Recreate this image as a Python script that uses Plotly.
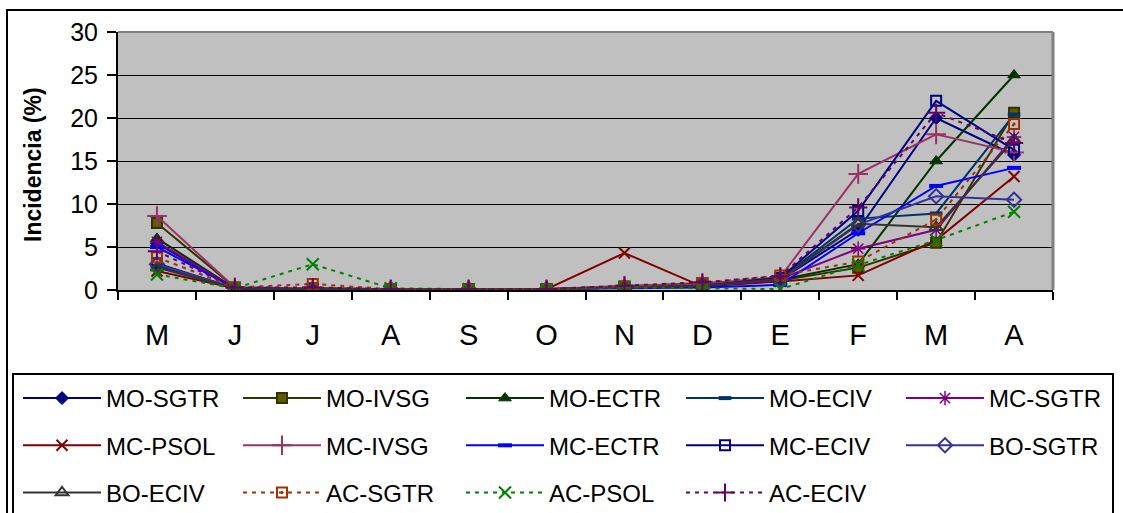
import plotly.graph_objects as go

months = ["M", "J", "J", "A", "S", "O", "N", "D", "E", "F", "M", "A"]
x_pos = list(range(len(months)))

names = ["MO-SGTR", "MO-IVSG", "MO-ECTR", "MO-ECIV", "MC-SGTR",
         "MC-PSOL", "MC-IVSG", "MC-ECTR", "MC-ECIV", "BO-SGTR",
         "BO-ECIV", "AC-SGTR", "AC-PSOL", "AC-ECIV"]

mo_sgtr = [5.4, 0.2, 0.1, 0.1, 0.1, 0.1, 0.4, 0.5, 1.2, 7.0, 20.0, 15.7]
mo_ivsg = [7.8, 0.3, 0.2, 0.1, 0.1, 0.1, 0.4, 0.8, 1.1, 2.6, 5.5, 20.6]
mo_ectr = [6.0, 0.2, 0.2, 0.1, 0.1, 0.1, 0.4, 0.6, 1.2, 3.0, 15.0, 25.0]
mo_eciv = [2.8, 0.2, 0.1, 0.1, 0.1, 0.1, 0.3, 0.5, 1.3, 8.3, 8.9, 20.4]
mc_sgtr = [5.6, 0.2, 0.1, 0.1, 0.1, 0.1, 0.4, 0.6, 1.3, 4.8, 7.0, 17.8]
mc_psol = [2.2, 0.2, 0.1, 0.1, 0.1, 0.1, 4.3, 0.4, 1.0, 1.7, 5.8, 13.2]
mc_ivsg = [8.6, 0.3, 0.2, 0.1, 0.1, 0.1, 0.5, 0.7, 1.5, 13.5, 18.1, 16.0]
mc_ectr = [5.0, 0.2, 0.1, 0.1, 0.1, 0.1, 0.2, 0.3, 0.6, 6.6, 12.1, 14.2]
mc_eciv = [3.1, 0.2, 0.1, 0.1, 0.1, 0.1, 0.3, 0.5, 1.4, 9.2, 22.0, 16.3]
bo_sgtr = [3.0, 0.2, 0.1, 0.1, 0.1, 0.1, 0.3, 0.5, 1.2, 7.6, 10.9, 10.5]
bo_eciv = [2.6, 0.2, 0.1, 0.1, 0.1, 0.1, 0.3, 0.5, 1.3, 7.7, 7.3, 17.5]
ac_sgtr = [3.8, 0.3, 0.7, 0.1, 0.1, 0.1, 0.4, 0.8, 1.7, 3.3, 8.2, 19.3]
ac_psol = [1.8, 0.2, 3.0, 0.2, 0.1, 0.1, 0.3, 0.2, 0.1, 2.9, 5.8, 9.1]
ac_eciv = [4.5, 0.3, 0.3, 0.1, 0.1, 0.1, 0.5, 0.9, 1.6, 9.6, 20.6, 17.1]

series = [mo_sgtr, mo_ivsg, mo_ectr, mo_eciv, mc_sgtr, mc_psol, mc_ivsg,
          mc_ectr, mc_eciv, bo_sgtr, bo_eciv, ac_sgtr, ac_psol, ac_eciv]

# style: (line color, dash, symbol, marker fill, marker line color, marker line width, size)
styles = [
    ("#000080", "solid", "diamond", "#000080", "#000080", 1, 10),
    ("#333300", "solid", "square", "#5c5c00", "#333300", 2, 10),
    ("#003300", "solid", "triangle-up", "#003300", "#003300", 1, 11),
    ("#003366", "solid", "line-ew", "#003366", "#003366", 4, 9),
    ("#800080", "solid", "asterisk-open", "#800080", "#800080", 1.5, 12),
    ("#800000", "solid", "x-thin-open", "#800000", "#800000", 2, 11),
    ("#993366", "solid", "cross-thin-open", "#993366", "#993366", 2, 14),
    ("#0000FF", "solid", "line-ew-open", "#0000FF", "#0000FF", 4, 10),
    ("#000080", "solid", "square-open", "#000080", "#000080", 2, 10),
    ("#333399", "solid", "diamond-open", "#333399", "#333399", 2, 11),
    ("#333333", "solid", "triangle-up-open", "#333333", "#333333", 2, 11),
    ("#993300", "4px,5px", "square-open-dot", "#993300", "#993300", 2, 10),
    ("#008000", "4px,5px", "x-thin-open", "#008000", "#008000", 2, 12),
    ("#660066", "4px,5px", "cross-thin-open", "#660066", "#660066", 2, 13),
]

fig = go.Figure()

W, H = 1123, 513
L, R, T, B = 118, 1053, 32, 290
pw, ph = R - L, B - T


def px_x(px):
    return (px - L) / pw


def px_y(py):
    return (B - py) / ph


legend_names = ["legend", "legend2", "legend3", "legend4", "legend5"]

for i, (nm, ys, st) in enumerate(zip(names, series, styles)):
    lc, dash, sym, mfill, mlc, mlw, msz = st
    col = i % 5
    fig.add_trace(go.Scatter(
        x=x_pos, y=ys, name=nm, mode="lines+markers",
        line=dict(color=lc, width=2, dash=dash),
        marker=dict(symbol=sym, color=mfill, size=msz,
                    line=dict(color=mlc, width=mlw)),
        legend=legend_names[col], legendgroup=nm,
    ))

col_left = [18, 238, 461, 681, 901]
legend_font = dict(family="Liberation Sans, Arial, sans-serif", size=24, color="black")
layout_legends = {}
for c, ln in enumerate(legend_names):
    layout_legends[ln] = dict(
        x=px_x(col_left[c]), y=px_y(376), xanchor="left", yanchor="top",
        orientation="v", font=legend_font, bgcolor="rgba(0,0,0,0)",
        borderwidth=0, itemwidth=78, tracegroupgap=13,
    )

fig.update_layout(
    width=W, height=H,
    margin=dict(l=L, r=W - R, t=T, b=H - B, pad=0, autoexpand=False),
    paper_bgcolor="white", plot_bgcolor="#C0C0C0",
    font=dict(family="Liberation Sans, Arial, sans-serif", color="black"),
    showlegend=True,
    **layout_legends,
)

fig.update_xaxes(
    range=[-0.5, 11.5], tickmode="array", tickvals=x_pos, ticktext=months,
    ticks="", showgrid=False, zeroline=False,
    showline=True, linecolor="black", linewidth=2,
    tickfont=dict(size=29, color="black"), ticklabelstandoff=18,
    minor=dict(tickmode="array", tickvals=[v - 0.5 for v in range(13)],
               ticks="outside", ticklen=8, tickwidth=2, tickcolor="black",
               showgrid=False),
)
fig.update_yaxes(
    range=[0, 30], tickmode="linear", tick0=0, dtick=5,
    showgrid=True, gridcolor="black", gridwidth=1, zeroline=False,
    showline=True, linecolor="black", linewidth=2,
    ticks="outside", ticklen=9, tickwidth=2, tickcolor="black",
    tickfont=dict(size=25, color="black"), ticklabelstandoff=4,
)

shapes = [
    # plot area top and right borders (gray)
    dict(type="line", xref="paper", yref="paper", x0=0, x1=1, y0=1, y1=1,
         line=dict(color="#808080", width=2)),
    dict(type="line", xref="paper", yref="paper", x0=1, x1=1, y0=0, y1=1,
         line=dict(color="#808080", width=3)),
    # legend box
    dict(type="rect", xref="paper", yref="paper",
         x0=px_x(13), x1=px_x(1113), y0=px_y(530), y1=px_y(374),
         line=dict(color="black", width=2), fillcolor="rgba(0,0,0,0)"),
    # outer chart border
    dict(type="rect", xref="paper", yref="paper",
         x0=px_x(7), x1=px_x(1140), y0=px_y(540), y1=px_y(10),
         line=dict(color="black", width=2), fillcolor="rgba(0,0,0,0)"),
]
fig.update_layout(shapes=shapes)

fig.add_annotation(
    text="<b>Incidencia (%)</b>", textangle=-90,
    xref="paper", yref="paper", x=px_x(33), y=px_y(165),
    xanchor="center", yanchor="middle", showarrow=False,
    font=dict(size=23, color="black", family="Liberation Sans, Arial, sans-serif"),
)

fig.write_html("out.html")
